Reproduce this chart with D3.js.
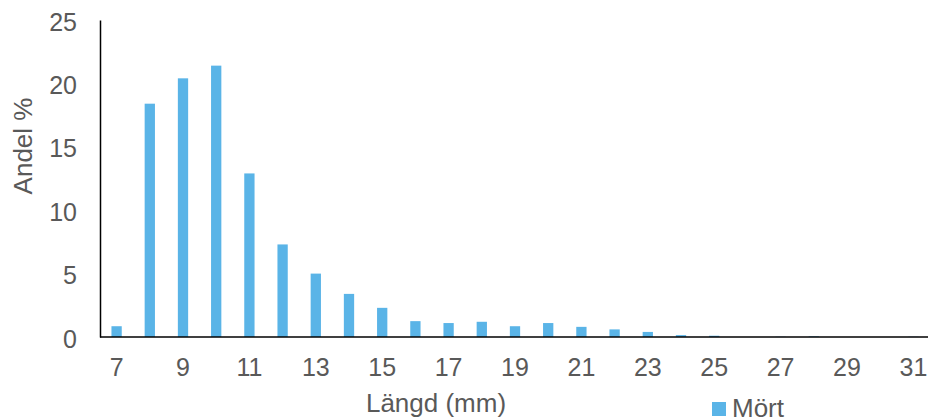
<!DOCTYPE html>
<html>
<head>
<meta charset="utf-8">
<script src="https://cdn.jsdelivr.net/npm/d3@7/dist/d3.min.js"></script>
<style>
  html, body { margin: 0; padding: 0; background: #fff; }
  svg { display: block; font-family: "Liberation Sans", Arial, sans-serif; }
</style>
</head>
<body>
<svg id="chart" width="928" height="420"></svg>
<script>
// Längdfördelning för mört (andel % per mm-klass)
const lengths = [7, 8, 9, 10, 11, 12, 13, 14, 15, 16, 17, 18, 19, 20, 21, 22, 23, 24, 25, 26, 27, 28, 29, 30, 31];
const shares  = [0.85, 18.4, 20.4, 21.4, 12.9, 7.3, 5.0, 3.4, 2.3, 1.25, 1.1, 1.2, 0.85, 1.1, 0.8, 0.6, 0.4, 0.15, 0.1, 0, 0.02, 0.05, 0, 0, 0.02];
const xTickLabels = [7, 9, 11, 13, 15, 17, 19, 21, 23, 25, 27, 29, 31];
const yTickLabels = [0, 5, 10, 15, 20, 25];
const seriesName = "Mört";

const svg = d3.select("#chart");
const textColor = "#595959";
const barColor = "#5ab4e7";

const x = d3.scaleBand()
  .domain(lengths)
  .range([100, 930])
  .paddingInner(0.69)
  .paddingOuter(0.345);

const y = d3.scaleLinear().domain([0, 25]).range([337, 20]);

// Staplar
svg.append("g")
  .selectAll("rect")
  .data(lengths.map((l, i) => ({ l, v: shares[i] })))
  .join("rect")
  .attr("x", d => x(d.l))
  .attr("width", x.bandwidth())
  .attr("y", d => y(d.v))
  .attr("height", d => y(0) - y(d.v))
  .attr("fill", barColor);

// Y-axel
const yAxis = svg.append("g")
  .attr("transform", "translate(100,0)")
  .call(d3.axisLeft(y).tickValues(yTickLabels).tickSize(0).tickPadding(23));
yAxis.select(".domain").attr("stroke", "#000").attr("stroke-width", 1.5);
yAxis.selectAll("text").attr("fill", textColor).style("font-size", "25px")
  .attr("dy", "0.4em");

// X-axel
const xAxis = svg.append("g")
  .attr("transform", "translate(0,337)")
  .call(d3.axisBottom(x).tickValues(xTickLabels).tickSize(0).tickPadding(21));
xAxis.select(".domain").attr("stroke", "#000").attr("stroke-width", 1.5)
  .attr("d", "M100,0H928");
xAxis.selectAll("text").attr("fill", textColor).style("font-size", "25px");

// Axeltitlar
svg.append("text")
  .attr("x", 436).attr("y", 412)
  .attr("text-anchor", "middle")
  .attr("fill", textColor).style("font-size", "26px")
  .text("Längd (mm)");

svg.append("text")
  .attr("transform", "translate(32,146) rotate(-90)")
  .attr("text-anchor", "middle")
  .attr("fill", textColor).style("font-size", "26px")
  .text("Andel %");

// Teckenförklaring
const legend = svg.append("g").attr("transform", "translate(712,402)");
legend.append("rect").attr("width", 14).attr("height", 14).attr("fill", barColor);
legend.append("text")
  .attr("x", 20).attr("y", 15)
  .attr("fill", textColor).style("font-size", "26px")
  .text(seriesName);
</script>
</body>
</html>
